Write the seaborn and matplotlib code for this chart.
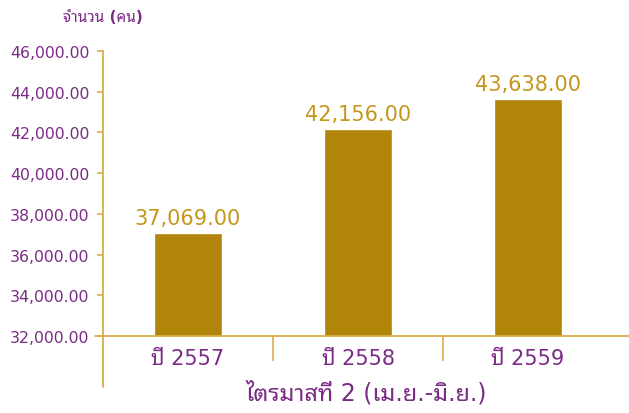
import pandas as pd
import seaborn as sns
from matplotlib import pyplot as plt
from matplotlib import font_manager
from matplotlib.lines import Line2D

years = ["ปี 2557", "ปี 2558", "ปี 2559"]
people = [37069.00, 42156.00, 43638.00]
yticks = [32000, 34000, 36000, 38000, 40000, 42000, 44000, 46000]

df = pd.DataFrame({"year": years, "people": people})

bar_col = "#B0850A"
axis_col = "#D9AE4A"
text_col = "#7B2B85"
label_col = "#C4961C"

sns.set_style("white")
# look for a font that has Thai glyphs, prefer the looped style
thai = sorted({f.name for f in font_manager.fontManager.ttflist if "thai" in f.name.lower()},
              key=lambda n: "looped" not in n.lower())
plt.rcParams["font.family"] = ["DejaVu Sans"] + thai[:1]

fig = plt.figure(figsize=(6.29, 4.14), dpi=100)
ax = fig.add_axes([103/629, 77/414, 526/629, 285/414])

sns.barplot(data=df, x="year", y="people", color=bar_col, width=0.4,
            saturation=1, ax=ax)
ax.set_ylim(32000, 46000)
ax.set_xlim(-0.5, 2.5 + 16/170)
ax.set_yticks(yticks)
ax.set_yticklabels([f"{v:,.2f}" for v in yticks], fontsize=11.3, color=text_col)
ax.tick_params(axis="y", length=4, width=1.2, color=axis_col, direction="out", left=True, pad=6)
ax.tick_params(axis="x", length=0, labelsize=15, labelcolor=text_col, pad=9)
ax.set_xticks([0.5, 1.5], minor=True)
ax.tick_params(axis="x", which="minor", length=18, width=1.2, color=axis_col,
               direction="out", bottom=True)

for s in ["top", "right"]:
    ax.spines[s].set_visible(False)
for s in ["left", "bottom"]:
    ax.spines[s].set_color(axis_col)
    ax.spines[s].set_linewidth(1.3)

# left axis runs down past the category labels
ax.add_line(Line2D([0, 0], [0, -51/285], transform=ax.transAxes, color=axis_col,
                   lw=1.3, clip_on=False))
ax.add_line(Line2D([-8/526, 0], [0, 0], transform=ax.transAxes, color=axis_col,
                   lw=1.3, clip_on=False))

for i, v in enumerate(people):
    ax.text(i, v + 250, f"{v:,.2f}", ha="center", va="bottom", fontsize=15,
            color=label_col)

ax.set_xlabel("ไตรมาสที่ 2 (เม.ย.-มิ.ย.)", fontsize=17, color=text_col, labelpad=8)
ax.set_ylabel("")
fig.text(103/629, 1 - 18/414, "จำนวน (คน)", ha="center", va="center",
         fontsize=11, fontweight="bold", color=text_col)

fig.savefig("out.png", dpi=100)
